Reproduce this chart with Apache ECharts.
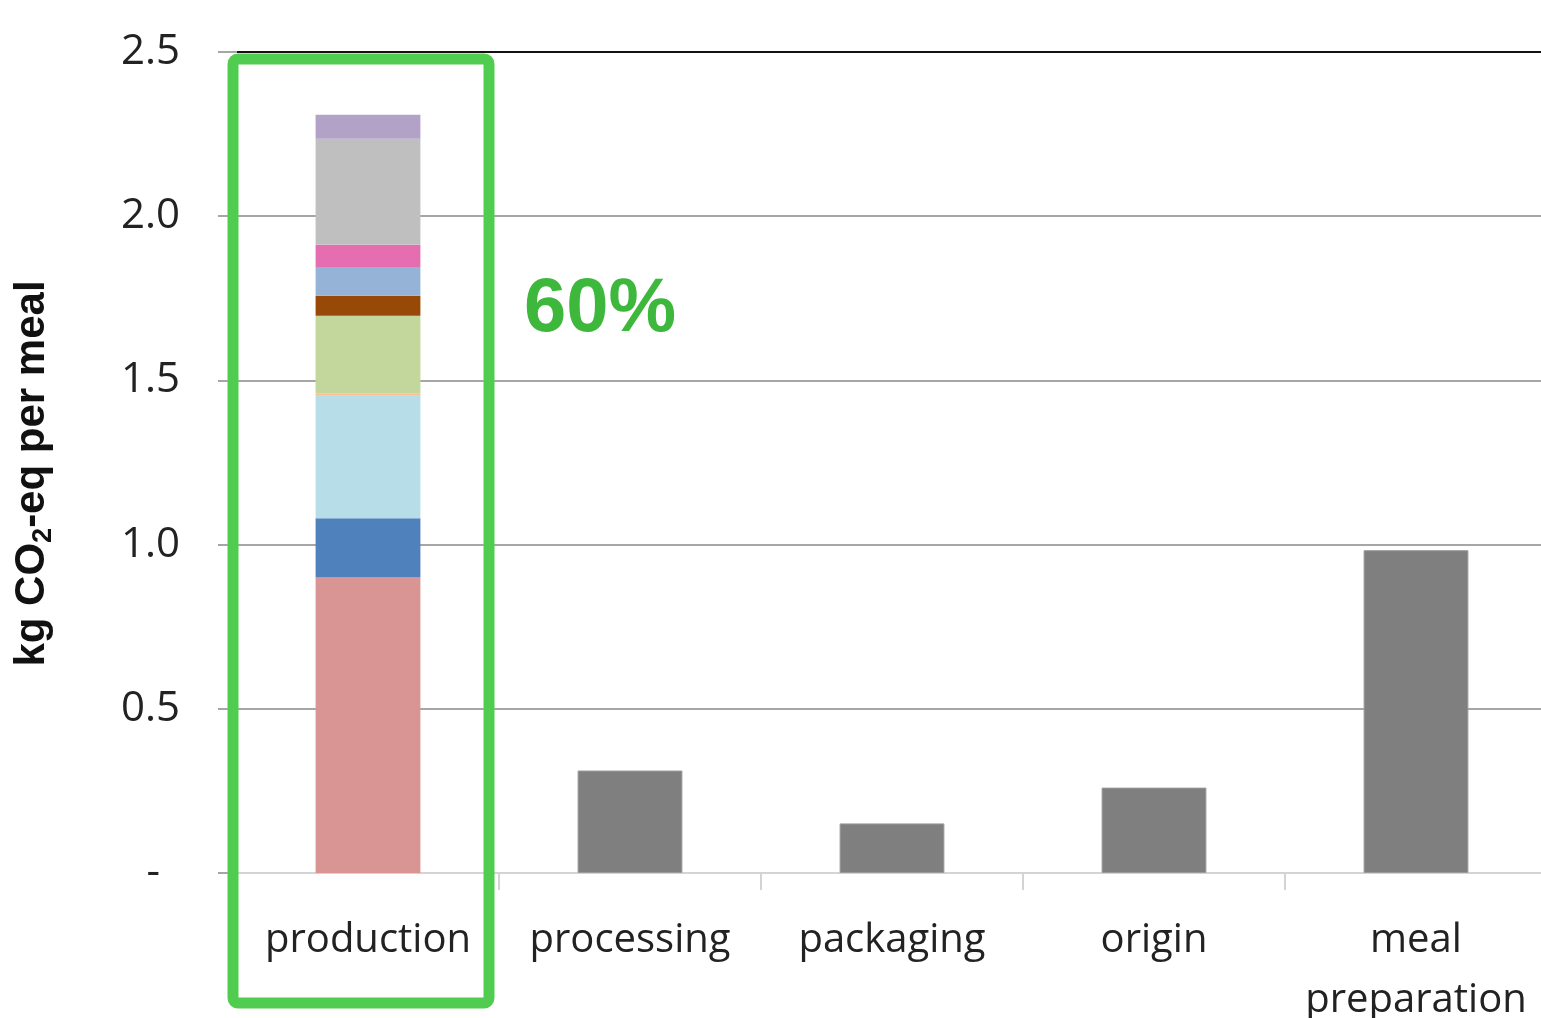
<!DOCTYPE html>
<html>
<head>
<meta charset="utf-8">
<script src="https://cdn.jsdelivr.net/npm/echarts@6/dist/echarts.min.js"></script>
<style>
  html, body { margin: 0; padding: 0; background: #fff; }
  #chart { width: 1541px; height: 1018px; }
</style>
</head>
<body>
<div id="chart"></div>
<script>
// stages of the meal's footprint, kg CO2-eq per meal
const stages = ['production', 'processing', 'packaging', 'origin', 'meal\npreparation']

// production is split by ingredient group (bottom to top)
const prodParts = [0.90, 0.18, 0.373, 0.007, 0.237, 0.061, 0.087, 0.068, 0.323, 0.073]
const prodColors = ['#D99594', '#4F81BD', '#B7DEE8', '#FAC090', '#C3D69B', '#984807', '#95B3D7', '#E46EB0', '#BFBFBF', '#B2A2C7']

// the other stages are single grey bars
const otherStages = [null, 0.312, 0.151, 0.26, 0.983]

const yTicks = [0, 0.5, 1.0, 1.5, 2.0, 2.5]

const chart = echarts.init(document.getElementById('chart'), null, { renderer: 'canvas' })

const series = prodParts.map((v, i) => ({
  name: 'part' + i,
  type: 'bar',
  stack: 'meal',
  barWidth: '40%',
  data: stages.map((s, j) => (j === 0 ? v : null)),
  itemStyle: { color: prodColors[i] },
  animation: false,
}))

series.push({
  name: 'other',
  type: 'bar',
  stack: 'meal',
  barWidth: '40%',
  data: otherStages,
  itemStyle: { color: '#7F7F7F', borderColor: '#9a9a9a', borderWidth: 1 },
  animation: false,
})

chart.setOption({
  backgroundColor: '#ffffff',
  animation: false,
  grid: { left: 237, right: -6, top: 52, bottom: 145, outerBoundsMode: 'none', containLabel: false },
  xAxis: {
    type: 'category',
    data: stages,
    axisLine: { lineStyle: { color: '#d4d4d4', width: 2 } },
    axisTick: { show: true, interval: 0, length: 17, lineStyle: { color: '#d4d4d4', width: 2 } },
    axisLabel: {
      interval: 0,
      margin: 38,
      color: '#222',
      fontFamily: 'Open Sans',
      fontSize: 40,
      lineHeight: 60,
    },
  },
  yAxis: {
    type: 'value',
    min: 0,
    max: 2.5,
    interval: 0.5,
    name: '{m|kg CO}{s|2}{m|-eq per meal}',
    nameLocation: 'middle',
    nameGap: 180,
    nameTextStyle: {
      rich: {
        m: { fontFamily: 'Liberation Sans', fontWeight: 'bold', fontSize: 42, color: '#111' },
        s: { fontFamily: 'Liberation Sans', fontWeight: 'bold', fontSize: 27, color: '#111', verticalAlign: 'top', padding: [23, 0, 0, 0] },
      },
      padding: [0, 22, 0, 0],
    },
    axisLine: { show: false },
    axisTick: { show: true, length: 19, lineStyle: { color: '#a6a6a6', width: 2 } },
    axisLabel: {
      margin: 57,
      color: '#222',
      fontFamily: 'Open Sans',
      fontSize: 42,
      formatter: (v) => (v === 0 ? '{d|-}' : v.toFixed(1)),
      rich: { d: { fontFamily: 'Open Sans', fontSize: 42, color: '#222', padding: [0, 20, 0, 0] } },
    },
    splitLine: {
      lineStyle: {
        color: yTicks.map((t, i) => (i === yTicks.length - 1 ? '#111' : i === 0 ? '#d4d4d4' : '#a6a6a6')),
        width: 2,
      },
    },
  },
  series: series,
  graphic: [
    {
      type: 'rect',
      shape: { x: 233, y: 59, width: 256, height: 944, r: 5 },
      style: { fill: 'none', stroke: '#50CD50', lineWidth: 11 },
      z: 100,
    },
    {
      type: 'text',
      left: 524,
      top: 272,
      style: { text: '60%', fill: '#3DB83D', font: 'bold 76px "Liberation Sans"' },
      z: 100,
    },
  ],
})
</script>
</body>
</html>
